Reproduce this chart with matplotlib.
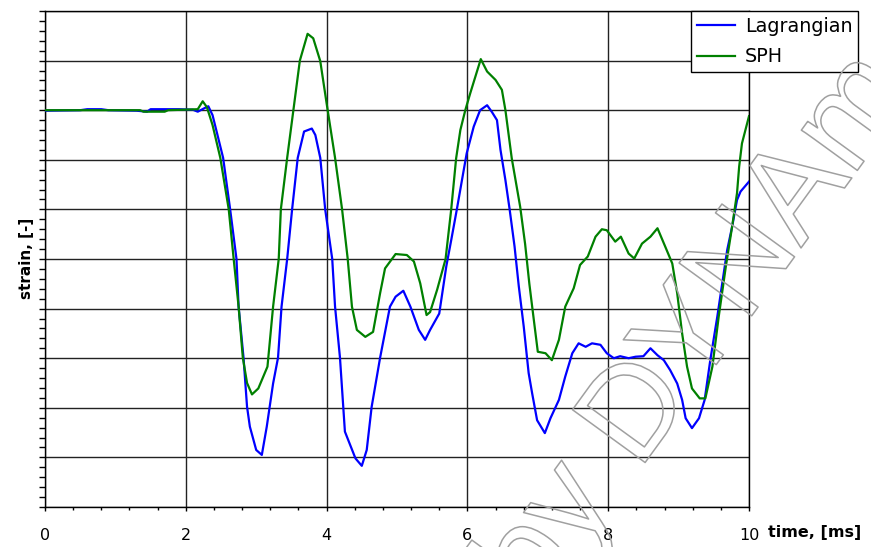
import numpy as np
import matplotlib
matplotlib.use('Agg')
import matplotlib.pyplot as plt
import matplotlib.patheffects as pe
from matplotlib.ticker import MultipleLocator, NullFormatter

## data (time in ms, strain in arbitrary grid units)
t_lag = [0.0, 0.5, 0.6, 0.8, 0.9, 1.3, 1.45, 1.5, 1.9, 2.1, 2.17, 2.25, 2.32, 2.38,
         2.45, 2.53, 2.63, 2.72, 2.75, 2.82, 2.87, 2.91, 3.0, 3.08, 3.15, 3.24, 3.31,
         3.36, 3.44, 3.51, 3.59, 3.68, 3.79, 3.84, 3.91, 3.98, 4.08, 4.12, 4.19, 4.26,
         4.41, 4.50, 4.57, 4.64, 4.76, 4.90, 4.98, 5.09, 5.19, 5.31, 5.40, 5.47, 5.60,
         5.70, 5.77, 5.85, 5.94, 5.99, 6.09, 6.18, 6.28, 6.35, 6.42, 6.47, 6.54, 6.60,
         6.67, 6.73, 6.80, 6.87, 6.92, 6.99, 7.10, 7.18, 7.30, 7.39, 7.49, 7.58, 7.68,
         7.77, 7.89, 7.98, 8.08, 8.17, 8.29, 8.39, 8.50, 8.60, 8.70, 8.79, 8.88, 8.98,
         9.05, 9.10, 9.19, 9.29, 9.37, 9.45, 9.55, 9.62, 9.69, 9.76, 9.83, 9.88, 10.0]
lag = [7.99, 8.0, 8.02, 8.02, 8.0, 7.99, 7.97, 8.02, 8.02, 8.01, 7.97, 8.03, 8.08, 7.9,
       7.5, 7.04, 6.0, 5.0, 4.04, 3.01, 2.02, 1.62, 1.15, 1.05, 1.62, 2.49, 3.01,
       4.04, 5.0, 6.0, 7.04, 7.57, 7.63, 7.5, 7.04, 6.0, 5.0, 4.04, 3.01, 1.52,
       0.98, 0.83, 1.15, 2.02, 3.01, 4.04, 4.24, 4.36, 4.04, 3.57, 3.37, 3.57, 3.9,
       4.85, 5.38, 6.0, 6.73, 7.13, 7.67, 8.0, 8.10, 7.96, 7.80, 7.2, 6.59, 6.0,
       5.25, 4.45, 3.64, 2.70, 2.29, 1.75, 1.49, 1.79, 2.16, 2.63, 3.10, 3.30, 3.23,
       3.30, 3.27, 3.10, 3.0, 3.04, 3.0, 3.03, 3.04, 3.20, 3.06, 2.96, 2.76, 2.49,
       2.16, 1.79, 1.59, 1.79, 2.16, 2.96, 3.84, 4.51, 5.18, 5.65, 6.19, 6.36, 6.56]

t_sph = [0.0, 1.35, 1.4, 1.7, 1.75, 2.17, 2.24, 2.30, 2.38, 2.49, 2.61, 2.68, 2.75,
         2.81, 2.87, 2.94, 3.03, 3.16, 3.24, 3.32, 3.35, 3.44, 3.53, 3.62, 3.73, 3.81,
         3.91, 4.0, 4.12, 4.22, 4.30, 4.36, 4.43, 4.55, 4.66, 4.76, 4.83, 4.98, 5.14,
         5.24, 5.33, 5.42, 5.47, 5.57, 5.69, 5.77, 5.84, 5.90, 5.97, 6.04, 6.19, 6.28,
         6.40, 6.49, 6.54, 6.63, 6.75, 6.82, 6.88, 6.92, 7.0, 7.11, 7.20, 7.30, 7.39,
         7.51, 7.60, 7.71, 7.82, 7.91, 7.98, 8.10, 8.18, 8.29, 8.37, 8.48, 8.60, 8.70,
         8.81, 8.91, 8.98, 9.05, 9.12, 9.19, 9.30, 9.38, 9.48, 9.57, 9.67, 9.76, 9.83,
         9.86, 9.90, 10.0]
sph = [8.0, 8.0, 7.97, 7.97, 8.0, 8.02, 8.18, 8.06, 7.7, 7.04, 6.0, 5.0, 4.04,
       3.01, 2.5, 2.27, 2.39, 2.83, 4.04, 5.0, 6.0, 7.04, 8.02, 9.0, 9.54, 9.45,
       8.99, 8.14, 7.04, 6.0, 5.0, 4.04, 3.57, 3.43, 3.53, 4.31, 4.81, 5.10, 5.08,
       4.95, 4.51, 3.87, 3.93, 4.38, 5.0, 6.0, 7.03, 7.6, 8.0, 8.34, 9.03, 8.78,
       8.61, 8.41, 8.0, 7.03, 6.05, 5.3, 4.5, 4.04, 3.13, 3.10, 2.96, 3.37, 4.04,
       4.41, 4.88, 5.05, 5.45, 5.60, 5.58, 5.35, 5.45, 5.11, 5.01, 5.31, 5.45, 5.62,
       5.25, 4.91, 4.31, 3.50, 2.83, 2.39, 2.19, 2.19, 2.83, 3.84, 4.84, 5.65, 6.33,
       6.86, 7.33, 7.88]

W, H = 871, 547
fig = plt.figure(figsize=(W/100, H/100), dpi=100)
ax = fig.add_axes([45/W, 1-507/H, (749-45)/W, (507-11)/H])

ax.plot(t_lag, lag, color='#0000ff', lw=1.6, label='Lagrangian', zorder=3)
ax.plot(t_sph, sph, color='#008000', lw=1.6, label='SPH', zorder=3)

ax.set_xlim(0, 10)
ax.set_ylim(0, 10)
ax.xaxis.set_major_locator(MultipleLocator(2))
ax.xaxis.set_minor_locator(MultipleLocator(0.4))
ax.yaxis.set_major_locator(MultipleLocator(1))
ax.yaxis.set_minor_locator(MultipleLocator(0.2))
ax.yaxis.set_major_formatter(NullFormatter())
ax.grid(True, which='major', color='#222222', lw=1.0)
ax.tick_params(axis='x', which='major', length=3, width=1, pad=12, labelsize=11.5)
ax.tick_params(axis='x', which='minor', length=2, width=1)
ax.tick_params(axis='y', which='both', length=4, width=1)
for s in ax.spines.values():
    s.set_linewidth(1.0)

fig.text(768/W, 1-533/H, 'time, [ms]', fontsize=11.5, weight='bold', va='center', ha='left')
fig.text(27/W, 1-258/H, 'strain, [-]', fontsize=11, weight='bold', va='center', ha='center',
         rotation=90)

leg = ax.legend(loc='upper left', bbox_to_anchor=(691/W, 1-11/H), bbox_transform=fig.transFigure,
                fontsize=13.8, fancybox=False, framealpha=1, edgecolor='black', borderpad=0.3,
                labelspacing=0.6, handlelength=2.0, handletextpad=0.52, borderaxespad=0)
leg.get_frame().set_linewidth(1.0)
leg.set_zorder(5)

## watermark, outlined only
fig.text(336/W, 1-888/H, 'Copy by DYNAmore', fontsize=94, family='Liberation Sans',
         color='none', rotation=54, ha='left', va='baseline', rotation_mode='anchor',
         zorder=10, path_effects=[pe.Stroke(linewidth=1.1, foreground='#a0a0a0')])

plt.savefig('out.png', dpi=100)
